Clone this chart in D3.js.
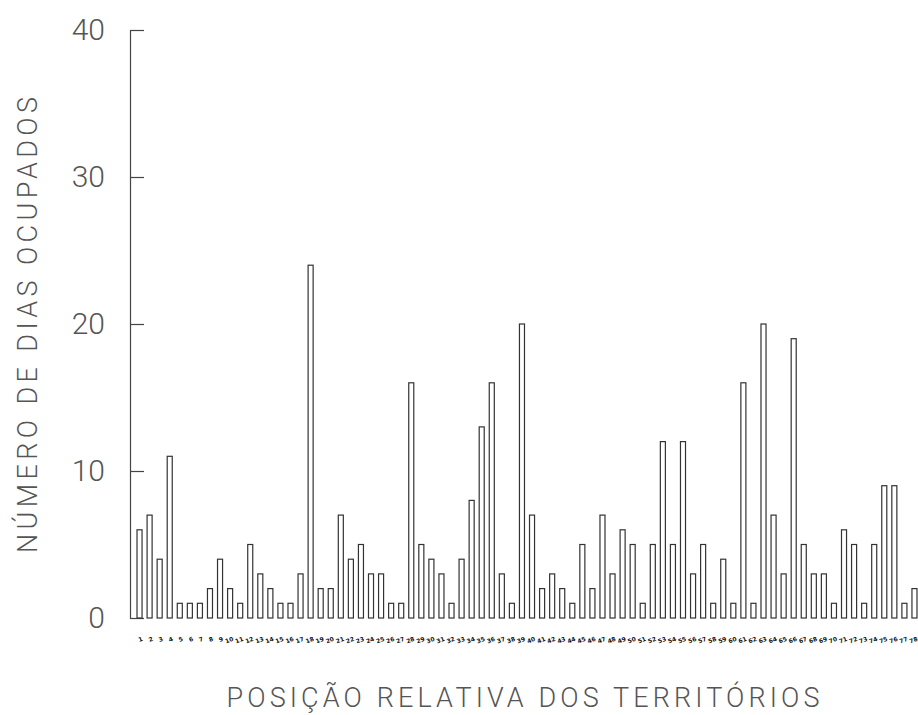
<!DOCTYPE html>
<html>
<head>
<meta charset="utf-8">
<script src="https://cdn.jsdelivr.net/npm/d3@7"></script>
<style>
  body { margin: 0; background: #fff; }
  svg { display: block; }
  .y.axis text { font-family: Roboto, "Liberation Sans", sans-serif; font-weight: 300; font-size: 30px; fill: #555; }
  .y.axis line, .y.axis path { stroke: #444; stroke-width: 1.2; }
  .x.axis text { font-family: "DejaVu Sans", sans-serif; font-weight: bold; font-size: 6px; fill: #111; }
  .x.axis path, .x.axis line { display: none; }
  .bar { fill: #fff; stroke: #333; stroke-width: 1.2; }
  .title { font-family: Roboto, "Liberation Sans", sans-serif; font-weight: 300; font-size: 27px; fill: #555; }
</style>
</head>
<body>
<svg id="viz" width="918" height="715"></svg>
<script>
// territory positions 1..78, days occupied
var posicoes = d3.range(1, 79);
var dias = [6, 7, 4, 11, 1, 1, 1, 2, 4, 2,
            1, 5, 3, 2, 1, 1, 3, 24, 2, 2,
            7, 4, 5, 3, 3, 1, 1, 16, 5, 4,
            3, 1, 4, 8, 13, 16, 3, 1, 20, 7,
            2, 3, 2, 1, 5, 2, 7, 3, 6, 5,
            1, 5, 12, 5, 12, 3, 5, 1, 4, 1,
            16, 1, 20, 7, 3, 19, 5, 3, 3, 1,
            6, 5, 1, 5, 9, 9, 1, 2];
var yTicks = [0, 10, 20, 30, 40];

var svg = d3.select("#viz");
var axisX = 130, baseY = 618, topY = 30;

var x = d3.scaleBand()
    .domain(posicoes)
    .range([134.5, 919.5])
    .paddingInner(0.5)
    .paddingOuter(0.25);
var y = d3.scaleLinear()
    .domain([0, 40])
    .range([baseY, topY]);

// Y AXIS - ticks point inward
var yAxis = d3.axisLeft(y)
    .tickValues(yTicks)
    .tickSizeInner(-14)
    .tickSizeOuter(0)
    .tickPadding(25);
svg.append("g")
    .attr("class", "y axis")
    .attr("transform", "translate(" + axisX + ",0)")
    .call(yAxis);

// BARS
svg.selectAll(".bar")
    .data(dias)
    .enter()
    .append("rect")
    .attr("class", "bar")
    .attr("x", function (d, i) { return x(posicoes[i]); })
    .attr("width", x.bandwidth())
    .attr("y", function (d) { return y(d); })
    .attr("height", function (d) { return baseY - y(d); });

// tiny position labels under the bars (illegible smudges in the scan)
var xAxis = d3.axisBottom(x).tickSize(0).tickPadding(0);
svg.append("g")
    .attr("class", "x axis")
    .attr("transform", "translate(0," + (baseY + 24) + ")")
    .call(xAxis)
    .selectAll("text")
    .attr("dy", 0)
    .style("text-anchor", "end")
    .attr("dx", 4)
    .attr("transform", "rotate(-20)");

// TITLES
svg.append("text")
    .attr("class", "title")
    .attr("transform", "translate(37,325) rotate(-90)")
    .attr("text-anchor", "middle")
    .attr("textLength", 456)
    .attr("lengthAdjust", "spacing")
    .text("NÚMERO DE DIAS OCUPADOS");

svg.append("text")
    .attr("class", "title")
    .attr("x", 523)
    .attr("y", 707)
    .attr("text-anchor", "middle")
    .attr("textLength", 593)
    .attr("lengthAdjust", "spacing")
    .text("POSIÇÃO RELATIVA DOS TERRITÓRIOS");
</script>
</body>
</html>
